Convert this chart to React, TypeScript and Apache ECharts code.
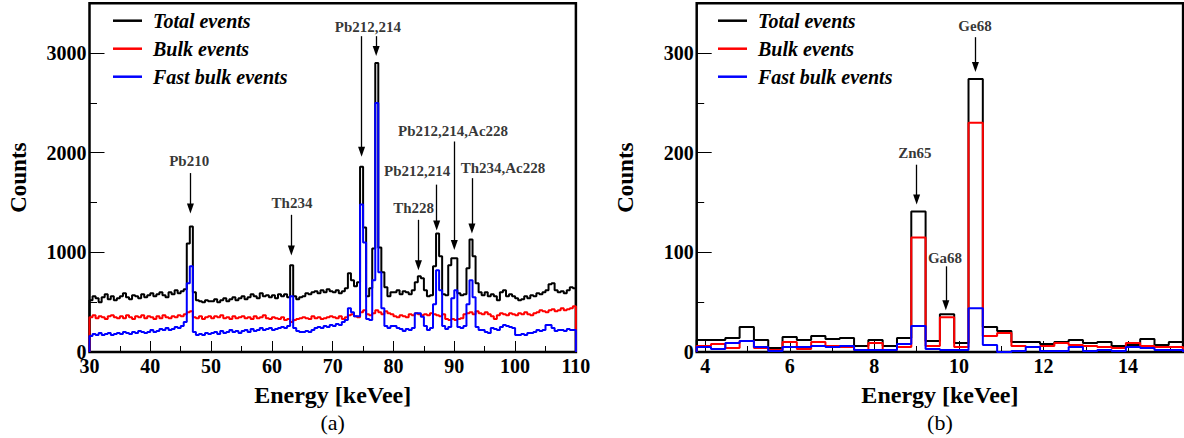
import { useEffect, useRef } from 'react';
import * as echarts from 'echarts';

// ---------------- data ----------------
const seriesNames = ['Total events', 'Bulk events', 'Fast bulk events'];
const seriesColors = ['#000000', '#ff0000', '#0000ff'];

// panel (a): 0.5 keVee bins from 30 to 110
const leftBinStart = 30;
const leftBinWidth = 0.5;
const leftTotal = [
  520, 560, 540, 500, 550, 580, 530, 560, 520, 540,
  560, 590, 550, 530, 570, 560, 540, 580, 550, 570,
  590, 560, 580, 600, 570, 550, 600, 580, 620, 590,
  610, 630, 1090, 1260, 600, 520, 510, 500, 520, 510,
  510, 530, 500, 520, 540, 510, 530, 550, 520, 540,
  560, 530, 550, 580, 560, 540, 590, 560, 570, 550,
  570, 540, 580, 560, 580, 550, 870, 560, 530, 550,
  560, 590, 580, 600, 610, 590, 620, 600, 630, 610,
  600, 620, 590, 610, 640, 790, 720, 660, 700, 1860,
  1250, 560, 640, 1040, 2900, 1050, 800, 650, 560, 600,
  600, 620, 580, 610, 600, 580, 620, 700, 760, 740,
  620, 560, 570, 860, 1190, 960, 580, 570, 870, 940,
  940, 590, 570, 580, 840, 1130, 960, 690, 600, 570,
  600, 560, 580, 560, 520, 600, 620, 560, 580, 560,
  540, 520, 530, 560, 540, 570, 560, 590, 580, 600,
  620, 680, 690, 620, 600, 610, 590, 620, 650, 640,
];
const leftBulk = [
  350, 370, 340, 360, 350, 330, 360, 370, 350, 340,
  360, 340, 370, 350, 330, 360, 350, 370, 340, 360,
  350, 330, 360, 340, 370, 350, 340, 360, 350, 370,
  360, 380, 400, 410, 350, 340, 360, 330, 350, 360,
  340, 360, 350, 370, 340, 350, 330, 360, 340, 350,
  360, 340, 350, 330, 360, 340, 350, 370, 340, 330,
  350, 340, 330, 350, 320, 330, 300, 320, 330, 340,
  350, 340, 330, 360, 340, 350, 330, 340, 350, 360,
  350, 340, 360, 330, 350, 370, 380, 360, 350, 400,
  420, 380, 370, 390, 420, 400, 380, 410, 390, 380,
  360, 350, 370, 360, 350, 380, 370, 390, 380, 370,
  380, 370, 390, 380, 370, 360, 380, 330, 320, 330,
  320, 330, 340, 380, 390, 400, 380, 410, 390, 380,
  400, 380, 360, 330, 370, 390, 380, 370, 390, 380,
  370, 390, 380, 400, 380, 370, 390, 400, 420, 410,
  400, 420, 430, 410, 420, 440, 420, 430, 440, 460,
];
const leftFast = [
  160, 180, 170, 190, 170, 180, 190, 170, 180, 190,
  180, 200, 190, 180, 200, 190, 210, 200, 190, 200,
  220, 200, 210, 230, 220, 240, 220, 230, 250, 240,
  260, 300, 690, 860, 200, 170, 180, 170, 190, 180,
  190, 200, 180, 210, 190, 200, 220, 200, 210, 190,
  210, 220, 200, 230, 210, 220, 240, 220, 230, 240,
  220, 230, 240, 250, 240, 260, 560, 240, 210, 200,
  200, 210, 200, 220, 240, 250, 240, 260, 250, 270,
  260, 280, 270, 300, 320, 440, 400, 360, 360, 1480,
  1100, 330, 320, 720, 2500, 800, 440, 260, 240, 260,
  260, 240, 230, 210, 230, 220, 240, 390, 390, 355,
  260, 220, 240, 480, 820, 620, 260, 230, 250, 540,
  620, 250, 240, 260, 480, 720, 550, 250, 220, 220,
  200, 190, 240, 230, 220, 250, 270, 260, 250, 240,
  170, 170, 180, 170, 190, 190, 200, 220, 210, 220,
  270, 270, 240, 210, 220, 220, 210, 230, 220, 220,
];

// panel (b): 34 bins from 3.8 to 15.3 keVee
const rightBinStart = 3.8;
const rightBinWidth = 11.5 / 34;
const rightTotal = [12, 12, 14, 25, 12, 4, 15, 12, 16, 13, 14, 6, 12, 6, 14, 141, 11, 38, 9, 274, 25, 21, 10, 10, 8, 10, 12, 9, 10, 6, 7, 13, 7, 10];
const rightBulk = [6, 8, 4, 11, 4, 2, 10, 3, 10, 6, 5, 2, 9, 2, 5, 115, 6, 35, 5, 230, 16, 19, 6, 5, 6, 9, 7, 6, 5, 4, 9, 6, 5, 5];
const rightFast = [5, 3, 9, 11, 5, 1, 5, 5, 6, 5, 6, 2, 2, 2, 8, 26, 3, 2, 2, 44, 7, 0, 1, 5, 1, 1, 5, 1, 2, 1, 5, 4, 2, 2];

// axis ticks
const leftXTicks = [30, 40, 50, 60, 70, 80, 90, 100, 110];
const leftXMinor = [35, 45, 55, 65, 75, 85, 95, 105];
const leftYTicks = [0, 1000, 2000, 3000];
const leftYMinor = [500, 1500, 2500];
const rightXTicks = [4, 6, 8, 10, 12, 14];
const rightXMinor = [5, 7, 9, 11, 13, 15];
const rightYTicks = [0, 100, 200, 300];
const rightYMinor = [50, 150, 250];

// peak annotations: [energy, y of text centre]
const leftPeakLabels = [
  { name: 'Pb210', x: 46.4, y: 1920 },
  { name: 'Th234', x: 63.3, y: 1500 },
  { name: 'Pb212,214', x: 75.8, y: 3265 },
  { name: 'Th228', x: 83.3, y: 1444 },
  { name: 'Pb212,214', x: 83.9, y: 1812 },
  { name: 'Pb212,214,Ac228', x: 89.8, y: 2215 },
  { name: 'Th234,Ac228', x: 98.0, y: 1846 },
];
// arrows: [energy, from, to]
const leftArrows = [
  [46.6, 1796, 1440],
  [63.2, 1377, 1020],
  [74.75, 3170, 2010],
  [77.15, 3170, 3020],
  [84.1, 1327, 870],
  [87.1, 1680, 1270],
  [90.0, 2113, 1075],
  [92.9, 1745, 1240],
];
const rightPeakLabels = [
  { name: 'Zn65', x: 8.96, y: 200 },
  { name: 'Ga68', x: 9.67, y: 94 },
  { name: 'Ge68', x: 10.38, y: 327 },
];
const rightArrows = [
  [9.0, 188, 153],
  [9.69, 86, 47],
  [10.39, 316, 286],
];

// ---------------- helpers ----------------
const FONT = 'Liberation Serif, Times New Roman, serif';

function histPoints(start: number, width: number, values: number[]) {
  const pts: number[][] = [[start, 0]];
  values.forEach((v, i) => pts.push([start + i * width, v]));
  const end = start + values.length * width;
  pts.push([end, values[values.length - 1]]);
  pts.push([end, 0]);
  return pts;
}

const GRID_TOP = 3.3;
const GRID_H = 348.7;
const GRID_W = 486.4;
const LEFT_X = 89.5;
const RIGHT_X = 696.7;

const plain = (v: number) => String(v);

function mainXAxis(grid: number, min: number, max: number, ticks: number[]) {
  return {
    type: 'value', gridIndex: grid, min, max,
    axisLine: { show: false },
    splitLine: { show: false },
    axisTick: { show: true, inside: true, length: 11, customValues: ticks, lineStyle: { color: '#000', width: 1 } },
    axisLabel: { show: true, customValues: ticks, formatter: plain, margin: 4, fontFamily: FONT, fontWeight: 'bold', fontSize: 20, color: '#000' },
    name: 'Energy [keVee]', nameLocation: 'middle', nameGap: 31,
    nameTextStyle: { fontFamily: FONT, fontWeight: 'bold', fontSize: 24, color: '#000' },
  };
}
function mainYAxis(grid: number, max: number, ticks: number[]) {
  return {
    type: 'value', gridIndex: grid, min: 0, max,
    axisLine: { show: false },
    splitLine: { show: false },
    axisTick: { show: true, inside: true, length: 15, customValues: ticks, lineStyle: { color: '#000', width: 1 } },
    axisLabel: { show: true, customValues: ticks, formatter: plain, margin: 3, fontFamily: FONT, fontWeight: 'bold', fontSize: 20, color: '#000' },
    name: 'Counts', nameLocation: 'middle', nameGap: 60,
    nameTextStyle: { fontFamily: FONT, fontWeight: 'bold', fontSize: 23, color: '#000' },
  };
}
function minorAxis(grid: number, min: number, max: number, ticks: number[], len: number) {
  return {
    type: 'value', gridIndex: grid, min, max,
    axisLine: { show: false },
    splitLine: { show: false },
    axisLabel: { show: false },
    axisTick: { show: true, inside: true, length: len, customValues: ticks, lineStyle: { color: '#000', width: 1 } },
  };
}

function histSeries(grid: number, start: number, width: number, values: number[], k: number) {
  return {
    type: 'line', name: seriesNames[k], xAxisIndex: grid, yAxisIndex: grid,
    data: histPoints(start, width, values), step: 'end', symbol: 'none', showSymbol: false,
    color: seriesColors[k], lineStyle: { color: seriesColors[k], width: 2 },
    emphasis: { disabled: true }, silent: true, z: 2 + k,
  };
}

function annotationSeries(grid: number, labels: { name: string; x: number; y: number }[], arrows: number[][]) {
  return {
    type: 'scatter', name: 'annotations', xAxisIndex: grid, yAxisIndex: grid,
    data: labels.map((l) => [l.x, l.y, l.name]),
    symbol: 'circle', symbolSize: 1, itemStyle: { color: 'rgba(0,0,0,0)' },
    silent: true, z: 10, emphasis: { disabled: true },
    label: {
      show: true, position: 'inside', formatter: (p: any) => p.value[2],
      fontFamily: FONT, fontWeight: 'bold', fontSize: 15, color: '#000',
    },
    markLine: {
      silent: true, animation: false,
      symbol: ['none', 'triangle'], symbolSize: [7, 10],
      lineStyle: { color: '#000', width: 1.3, type: 'solid' },
      label: { show: false },
      emphasis: { disabled: true },
      data: arrows.map((a) => [{ coord: [a[0], a[1]] }, { coord: [a[0], a[2]] }]),
    },
  };
}

function legendFor(left: number) {
  return {
    data: seriesNames, left, top: 10.7, orient: 'vertical', padding: 0,
    itemWidth: 29, itemHeight: 2.5, itemGap: 8, icon: 'rect', selectedMode: false,
    itemStyle: { borderWidth: 0 },
    textStyle: { fontFamily: FONT, fontStyle: 'italic', fontWeight: 'bold', fontSize: 20, color: '#000', lineHeight: 20, padding: [0, 0, 0, 6] },
  };
}

export default function App() {
  const ref = useRef<HTMLDivElement>(null);
  useEffect(() => {
    if (!ref.current) return;
    const chart = echarts.init(ref.current, undefined, { renderer: 'svg' });
    const gridBase = { top: GRID_TOP, height: GRID_H, width: GRID_W, containLabel: false, outerBoundsMode: 'none' };
    const option: any = {
      animation: false,
      backgroundColor: '#ffffff',
      grid: [
        { ...gridBase, left: LEFT_X, show: true, borderColor: '#000', borderWidth: 2.5, backgroundColor: 'transparent' },
        { ...gridBase, left: RIGHT_X, show: true, borderColor: '#000', borderWidth: 2.5, backgroundColor: 'transparent' },
        { ...gridBase, left: LEFT_X, show: false },
        { ...gridBase, left: RIGHT_X, show: false },
      ],
      xAxis: [
        mainXAxis(0, 30, 110, leftXTicks),
        mainXAxis(1, 3.8, 15.3, rightXTicks),
        minorAxis(2, 30, 110, leftXMinor, 6),
        minorAxis(3, 3.8, 15.3, rightXMinor, 6),
      ],
      yAxis: [
        mainYAxis(0, 3500, leftYTicks),
        mainYAxis(1, 350, rightYTicks),
        minorAxis(2, 0, 3500, leftYMinor, 7.5),
        minorAxis(3, 0, 350, rightYMinor, 7.5),
      ],
      legend: [legendFor(113), legendFor(718)],
      series: [
        histSeries(0, leftBinStart, leftBinWidth, leftTotal, 0),
        histSeries(0, leftBinStart, leftBinWidth, leftBulk, 1),
        histSeries(0, leftBinStart, leftBinWidth, leftFast, 2),
        annotationSeries(0, leftPeakLabels, leftArrows),
        histSeries(1, rightBinStart, rightBinWidth, rightTotal, 0),
        histSeries(1, rightBinStart, rightBinWidth, rightBulk, 1),
        histSeries(1, rightBinStart, rightBinWidth, rightFast, 2),
        annotationSeries(1, rightPeakLabels, rightArrows),
      ],
      graphic: [
        { type: 'text', x: LEFT_X + GRID_W / 2, y: 422, style: { text: '(a)', fontFamily: FONT, fontSize: 22, fill: '#000', textAlign: 'center', textVerticalAlign: 'middle' } },
        { type: 'text', x: RIGHT_X + GRID_W / 2, y: 422, style: { text: '(b)', fontFamily: FONT, fontSize: 22, fill: '#000', textAlign: 'center', textVerticalAlign: 'middle' } },
      ],
    };
    chart.setOption(option);
    return () => chart.dispose();
  }, []);
  return <div ref={ref} style={{ position: 'fixed', left: 0, top: 0, width: 1184, height: 438 }} />;
}
